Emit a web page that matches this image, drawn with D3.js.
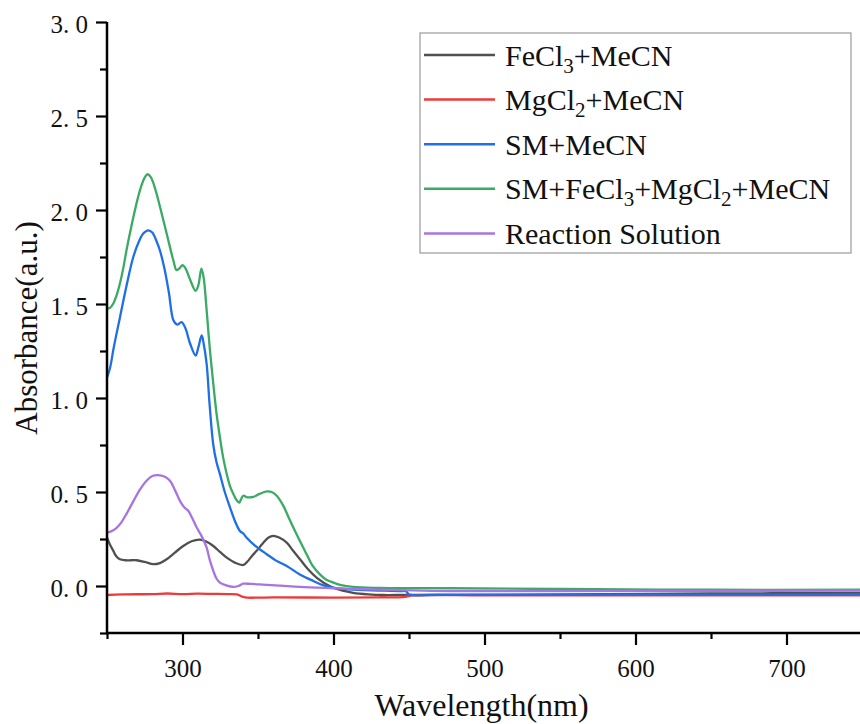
<!DOCTYPE html>
<html>
<head>
<meta charset="utf-8">
<script src="https://cdn.jsdelivr.net/npm/d3@7"></script>
<style>
  body { margin: 0; background: #fff; }
  text { font-family: "Liberation Serif", "Times New Roman", serif; fill: #111; }
</style>
</head>
<body>
<svg id="chart" width="860" height="724"></svg>
<script>
// UV-vis spectra: [wavelength nm, absorbance]
const fecl3 = [[250,0.257],[252,0.22],[254.2,0.187],[256,0.16],[258.6,0.142],[262,0.137],[266,0.137],[269.6,0.137],[275,0.128],[280.7,0.116],[285,0.122],[289.5,0.142],[295,0.178],[300.5,0.213],[306,0.238],[311.6,0.247],[316,0.235],[320.4,0.213],[325,0.18],[329.3,0.151],[335,0.123],[340.3,0.112],[343,0.13],[346,0.16],[349.1,0.187],[353,0.225],[357,0.258],[360.1,0.267],[364,0.258],[369,0.231],[373,0.19],[377.8,0.142],[383,0.09],[388.8,0.044],[394,0.015],[399.9,-0.009],[406,-0.025],[413,-0.036],[423,-0.044],[432.9,-0.048],[450,-0.047],[550,-0.045],[650,-0.04],[750,-0.037]];

const mgcl2 = [[250,-0.048],[260,-0.045],[280,-0.043],[290,-0.04],[300,-0.043],[310,-0.041],[320,-0.042],[330,-0.043],[336,-0.045],[340,-0.058],[343,-0.062],[360,-0.06],[400,-0.062],[430,-0.06],[446,-0.059],[453,-0.05],[500,-0.05],[600,-0.05],[750,-0.05]];

const smMecn = [[250,1.11],[252,1.16],[254.5,1.27],[258.6,1.43],[263,1.6],[267.4,1.75],[271,1.83],[274,1.875],[277.4,1.892],[280,1.88],[283,1.83],[285,1.786],[288,1.69],[291,1.56],[294,1.413],[296.5,1.39],[299.4,1.404],[302,1.37],[305,1.29],[308.7,1.226],[310.5,1.27],[312.7,1.333],[314,1.29],[316,1.18],[318,0.96],[320.4,0.75],[322.5,0.66],[324.8,0.595],[328,0.5],[331.5,0.417],[335,0.34],[338,0.293],[340.3,0.279],[342.5,0.257],[348,0.215],[355.8,0.169],[362,0.135],[369,0.107],[378,0.06],[386.6,0.027],[393,0.005],[399.9,-0.009],[410,-0.018],[430,-0.024],[444,-0.027],[448,-0.028],[450,-0.045],[470,-0.047],[550,-0.047],[650,-0.046],[750,-0.045]];

const smAll = [[250,1.475],[252,1.48],[254,1.5],[256.5,1.55],[258.6,1.61],[261,1.7],[263,1.79],[265,1.87],[267.4,1.96],[270,2.05],[272,2.11],[274.5,2.165],[276.7,2.19],[279,2.175],[282,2.11],[285,2.02],[289.5,1.875],[294,1.73],[296,1.68],[298,1.69],[300,1.706],[302,1.69],[305,1.63],[308.7,1.57],[310.5,1.6],[312.5,1.688],[314,1.64],[316,1.466],[318,1.27],[320.4,1.075],[322.5,0.92],[324.8,0.79],[327,0.68],[329.3,0.595],[331.5,0.53],[333.7,0.489],[336,0.455],[337.6,0.444],[339,0.465],[340.3,0.48],[343,0.472],[346.9,0.474],[351,0.49],[355.8,0.503],[359,0.5],[362.4,0.48],[366.8,0.426],[370,0.37],[373.4,0.311],[378,0.235],[382.2,0.169],[386,0.11],[391,0.062],[395,0.035],[399.9,0.018],[405,0.005],[413,-0.005],[430,-0.01],[477,-0.012],[550,-0.016],[650,-0.02],[750,-0.02]];

const reaction = [[250,0.284],[253,0.292],[256,0.307],[259,0.333],[263,0.385],[267.4,0.45],[272,0.515],[276.2,0.56],[280,0.585],[284,0.59],[288,0.582],[291.7,0.56],[295,0.51],[298.3,0.453],[301,0.42],[303.8,0.4],[306.5,0.36],[309.4,0.311],[313,0.26],[316,0.204],[318,0.14],[320.4,0.08],[322.5,0.04],[324.8,0.018],[329,0.003],[333.7,-0.005],[337,0],[340.3,0.012],[345,0.011],[351.3,0.009],[365,0.002],[377.8,-0.005],[400,-0.012],[422,-0.018],[477,-0.027],[550,-0.027],[650,-0.026],[750,-0.024]];

const seriesNames = ["FeCl3+MeCN", "MgCl2+MeCN", "SM+MeCN", "SM+FeCl3+MgCl2+MeCN", "Reaction Solution"];
const seriesData = [fecl3, mgcl2, smMecn, smAll, reaction];
const seriesColors = ["#505050", "#f03a3a", "#1f6fe6", "#3aaa64", "#a874e0"];

const xMajor = [300, 400, 500, 600, 700];
const xMinor = [250, 350, 450, 550, 650, 750];
const yMajor = [0, 0.5, 1.0, 1.5, 2.0, 2.5, 3.0];
const yMinor = [-0.25, 0.25, 0.75, 1.25, 1.75, 2.25, 2.75];

const svg = d3.select("#chart");
const plotL = 107, plotR = 862, plotT = 22, plotB = 633;

const x = d3.scaleLinear().domain([250, 750]).range([plotL, plotR]);
const y = d3.scaleLinear().domain([-0.25, 3.0]).range([plotB, plotT]);

svg.append("clipPath").attr("id", "plot")
  .append("rect").attr("x", plotL).attr("y", plotT)
  .attr("width", plotR - plotL).attr("height", plotB - plotT);

// spectra
const line = d3.line()
  .x(d => x(d[0]))
  .y(d => y(d[1]))
  .curve(d3.curveCatmullRom.alpha(0.5));

svg.append("g").attr("clip-path", "url(#plot)")
  .selectAll("path")
  .data(seriesData)
  .join("path")
  .attr("d", line)
  .attr("fill", "none")
  .attr("stroke", (d, i) => seriesColors[i])
  .attr("stroke-width", 2.3)
  .attr("stroke-linejoin", "round");

// axes
const fmtY = d => d.toFixed(1).replace(".", ". ");

const xAxis = svg.append("g").attr("transform", `translate(0,${plotB})`)
  .call(d3.axisBottom(x).tickValues(xMajor).tickSize(12).tickPadding(14).tickFormat(d3.format("d")));
svg.append("g").attr("transform", `translate(0,${plotB})`)
  .call(d3.axisBottom(x).tickValues(xMinor).tickSize(6).tickFormat(""))
  .call(g => g.select(".domain").remove());

const yAxis = svg.append("g").attr("transform", `translate(${plotL},0)`)
  .call(d3.axisLeft(y).tickValues(yMajor).tickSize(11).tickPadding(8).tickFormat(fmtY));
svg.append("g").attr("transform", `translate(${plotL},0)`)
  .call(d3.axisLeft(y).tickValues(yMinor).tickSize(7).tickFormat(""))
  .call(g => g.select(".domain").remove());

svg.selectAll(".domain").attr("stroke", "#000").attr("stroke-width", 2.5);
svg.selectAll(".tick line").attr("stroke", "#000").attr("stroke-width", 2.2);
// d3 draws the domain with outer ticks; flatten them
xAxis.select(".domain").attr("d", `M${plotL},0H${plotR}`);
yAxis.select(".domain").attr("d", `M0,${plotB}V${plotT}`);

xAxis.selectAll(".tick text")
  .attr("font-family", "Liberation Serif").attr("font-size", 25).attr("fill", "#111");
yAxis.selectAll(".tick text")
  .attr("font-family", "Liberation Serif").attr("font-size", 25).attr("fill", "#111")
  .attr("dy", "0.42em");

// axis titles
svg.append("text")
  .attr("x", (plotL + plotR) / 2 - 3).attr("y", 716)
  .attr("text-anchor", "middle").attr("font-size", 32)
  .text("Wavelength(nm)");

svg.append("text")
  .attr("transform", "translate(37,328) rotate(-90)")
  .attr("text-anchor", "middle").attr("font-size", 31)
  .text("Absorbance(a.u.)");

// legend
const legend = svg.append("g");
legend.append("rect")
  .attr("x", 420).attr("y", 33).attr("width", 431).attr("height", 220)
  .attr("fill", "#fff").attr("stroke", "#9a9a9a").attr("stroke-width", 1.2);

const rows = legend.selectAll("g.row")
  .data(seriesNames)
  .join("g").attr("class", "row")
  .attr("transform", (d, i) => `translate(0,${55 + i * 44.6})`);

rows.append("line")
  .attr("x1", 424).attr("x2", 495)
  .attr("stroke", (d, i) => seriesColors[i]).attr("stroke-width", 2.5);

rows.append("text")
  .attr("x", 505).attr("y", 10.5).attr("font-size", 30)
  .each(function(name) {
    const t = d3.select(this);
    // digits after "Cl" are subscripts
    let lowered = false;
    name.split(/(\d)/).forEach(part => {
      if (part === "") return;
      if (/^\d$/.test(part)) {
        t.append("tspan").attr("font-size", 21).attr("dy", 7).text(part);
        lowered = true;
      } else {
        t.append("tspan").attr("dy", lowered ? -7 : 0).text(part);
        lowered = false;
      }
    });
  });
</script>
</body>
</html>
